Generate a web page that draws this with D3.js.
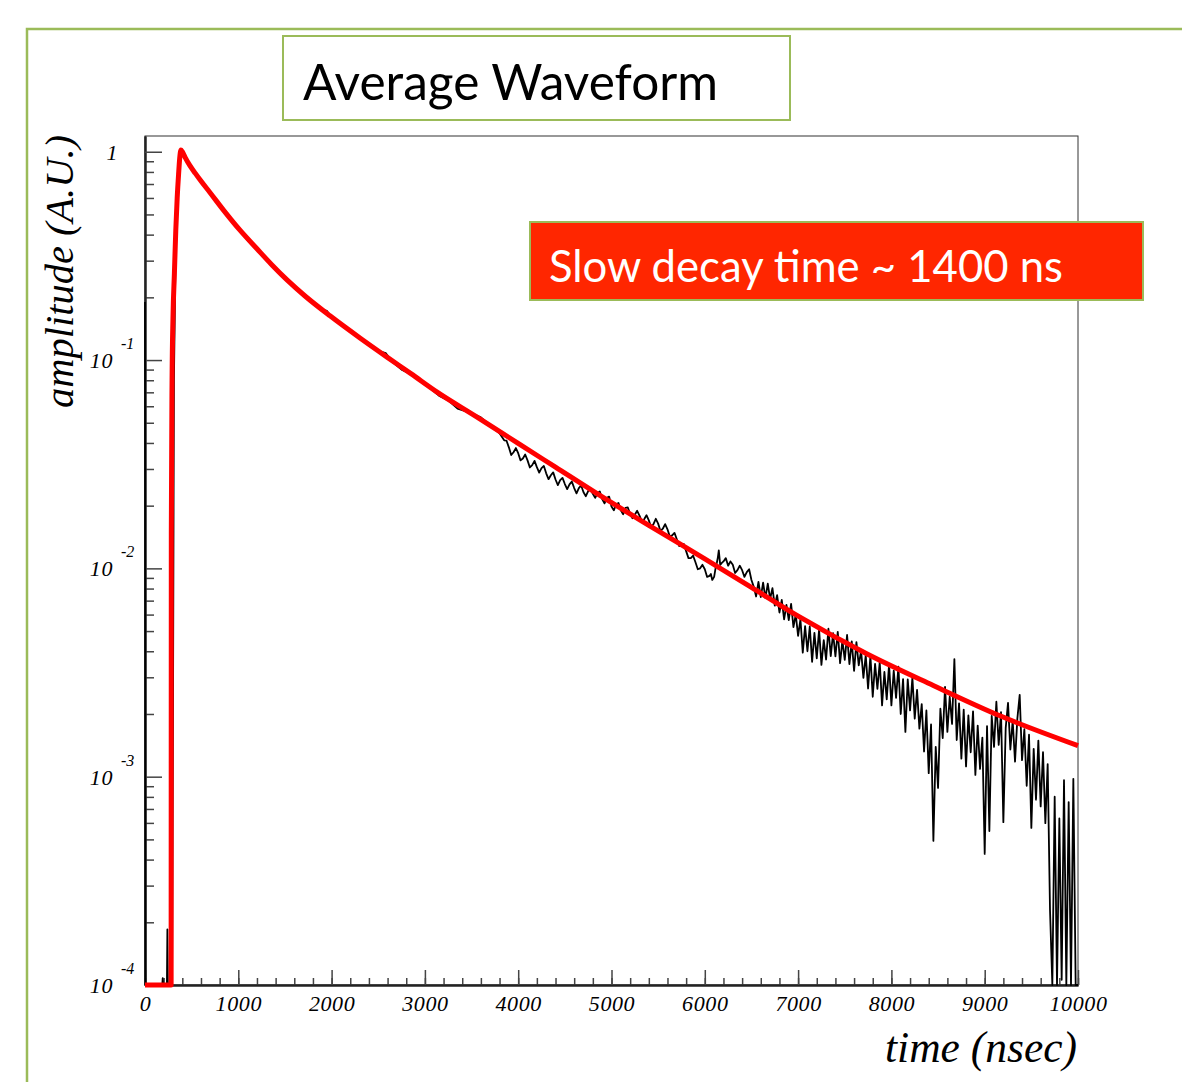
<!DOCTYPE html>
<html>
<head>
<meta charset="utf-8">
<script src="https://cdn.jsdelivr.net/npm/d3@7"></script>
<style>
  body { margin: 0; background: #fff; }
</style>
</head>
<body>
<svg id="chart"></svg>
<script>
"use strict";

// ---- data ----
let xMajor = [0, 1000, 2000, 3000, 4000, 5000, 6000, 7000, 8000, 9000, 10000];
let yMajor = [1e-4, 1e-3, 1e-2, 1e-1, 1];
let yLabelBase = ['10', '10', '10', '10', '1'];
let yLabelExp = ['-4', '-3', '-2', '-1', ''];

// fitted curve (red)
let fitTime = [0, 280, 282, 290, 300, 315, 330, 345, 360, 372, 385, 400, 430, 480, 540, 590, 700, 839,
  1018, 1200, 1361, 1522, 1715, 1983, 2304, 2594, 2850, 3127, 3555, 4000, 4400, 4841, 5400, 6000,
  6500, 7020, 7735, 8449, 9164, 10000];
let fitAmp = [1e-4, 1e-4, 0.015, 0.08, 0.16, 0.26, 0.42, 0.6, 0.78, 0.93, 1.02, 1.0, 0.94, 0.86, 0.787,
  0.733, 0.634, 0.526, 0.42, 0.342, 0.286, 0.2425, 0.203, 0.163, 0.1276, 0.1033, 0.0861, 0.0704,
  0.0534, 0.0398, 0.0306, 0.0229, 0.0161, 0.0111, 0.0081, 0.00583, 0.00389, 0.00274, 0.00196, 0.00141];

// averaged waveform (black), [time ns, amplitude]; 5e-5 = below the axis
let waveform = [
  [0, 0.19], [5, 5e-5], [185, 5e-5], [190, 1.08e-4], [195, 5e-5], [235, 5e-5], [240, 1.85e-4], [245, 5e-5],
  [290, 5e-5], [300, 0.002], [310, 0.08], [330, 0.4], [355, 0.8], [380, 1.0], [400, 1.0], [420, 0.97],
  [500, 0.84], [600, 0.73], [700, 0.635], [800, 0.555], [900, 0.49], [1000, 0.43], [1100, 0.375],
  [1200, 0.34], [1300, 0.307], [1400, 0.275], [1500, 0.248], [1600, 0.226], [1700, 0.206], [1800, 0.19],
  [1900, 0.1745], [1950, 0.172], [2000, 0.160], [2100, 0.149], [2200, 0.138], [2300, 0.128], [2400, 0.119],
  [2500, 0.1107], [2580, 0.108], [2650, 0.098], [2750, 0.090], [2850, 0.0855], [2950, 0.079], [3050, 0.0735],
  [3150, 0.0675], [3250, 0.064], [3350, 0.0585], [3450, 0.0565], [3500, 0.0555], [3600, 0.0531],
  [3700, 0.0485], [3800, 0.0445], [3850, 0.0412], [3875, 0.0410], [3900, 0.0381], [3925, 0.0350],
  [3950, 0.0361], [3975, 0.0378], [4000, 0.0357], [4025, 0.0330], [4050, 0.0337], [4075, 0.0352],
  [4100, 0.0330], [4125, 0.0305], [4150, 0.0313], [4175, 0.0328], [4200, 0.0306], [4225, 0.0288],
  [4250, 0.0303], [4275, 0.0310], [4300, 0.0286], [4325, 0.0268], [4350, 0.0280], [4375, 0.0289],
  [4400, 0.0267], [4425, 0.0251], [4450, 0.0265], [4475, 0.0272], [4500, 0.0254], [4525, 0.0240],
  [4550, 0.0253], [4575, 0.0261], [4600, 0.0243], [4625, 0.0229], [4650, 0.0243], [4675, 0.0250],
  [4700, 0.0232], [4725, 0.0222], [4750, 0.0235], [4775, 0.0240], [4800, 0.0228], [4825, 0.0218],
  [4850, 0.0230], [4875, 0.0234], [4900, 0.0215], [4925, 0.0205], [4950, 0.0218], [4975, 0.0221],
  [5000, 0.0198], [5025, 0.0190], [5050, 0.0203], [5075, 0.0206], [5100, 0.0190], [5125, 0.0182],
  [5150, 0.0195], [5175, 0.0196], [5200, 0.0182], [5225, 0.0174], [5250, 0.0181], [5275, 0.0189],
  [5300, 0.0179], [5325, 0.0168], [5350, 0.0172], [5375, 0.0180], [5400, 0.0170], [5425, 0.0158],
  [5450, 0.0163], [5475, 0.0173], [5500, 0.0164], [5525, 0.0151], [5550, 0.0155], [5575, 0.0163],
  [5600, 0.0154], [5625, 0.0142], [5650, 0.0144], [5675, 0.0148], [5700, 0.0138], [5725, 0.0128],
  [5750, 0.0129], [5775, 0.0131], [5800, 0.0121], [5825, 0.0112], [5850, 0.0112], [5875, 0.0115],
  [5900, 0.0107], [5925, 0.0099], [5950, 0.0100], [5975, 0.0104], [6000, 0.0099], [6025, 0.0091],
  [6050, 0.0092], [6065, 0.0094], [6080, 0.0088], [6100, 0.0091], [6115, 0.0100], [6130, 0.0107],
  [6140, 0.0113], [6150, 0.0122], [6165, 0.0104], [6180, 0.0106], [6200, 0.0108], [6225, 0.0112],
  [6250, 0.0103], [6275, 0.0108], [6300, 0.0104], [6325, 0.0095], [6350, 0.0098], [6375, 0.0103],
  [6400, 0.0098], [6425, 0.0091], [6450, 0.0096], [6475, 0.0099], [6500, 0.0088],
  [6525, 0.00815], [6550, 0.00733], [6575, 0.00861], [6600, 0.00728], [6625, 0.00855], [6650, 0.0072],
  [6675, 0.00845], [6700, 0.00713], [6725, 0.00804], [6750, 0.00662], [6775, 0.00743], [6800, 0.00614],
  [6825, 0.00705], [6850, 0.00569], [6875, 0.00668], [6900, 0.00564], [6925, 0.00676], [6950, 0.00522],
  [6975, 0.0060], [7000, 0.00474], [7025, 0.00569], [7050, 0.00394], [7075, 0.00528], [7100, 0.0040],
  [7125, 0.00526], [7150, 0.00356], [7175, 0.0049], [7200, 0.0037], [7225, 0.00508], [7250, 0.00344],
  [7275, 0.00452], [7300, 0.00365], [7325, 0.00513], [7350, 0.00379], [7375, 0.00489], [7400, 0.00378],
  [7425, 0.00496], [7450, 0.00351], [7475, 0.00451], [7500, 0.00364], [7525, 0.00479], [7550, 0.00347],
  [7575, 0.00446], [7600, 0.00322], [7625, 0.00443], [7650, 0.00342], [7675, 0.00403], [7700, 0.00298],
  [7725, 0.00383], [7750, 0.00265], [7775, 0.00381], [7800, 0.00242], [7825, 0.00348], [7850, 0.00264],
  [7875, 0.00355], [7900, 0.0022], [7925, 0.00318], [7950, 0.00235], [7975, 0.00346], [8000, 0.0022],
  [8025, 0.00323], [8050, 0.00239], [8075, 0.00337], [8100, 0.0020], [8125, 0.00294], [8150, 0.00164],
  [8175, 0.00293], [8200, 0.00208], [8225, 0.00299], [8250, 0.0019], [8275, 0.00261], [8300, 0.0017],
  [8325, 0.00223], [8350, 0.00132], [8375, 0.00208], [8400, 0.00104], [8425, 0.00178], [8450, 0.000492],
  [8475, 0.00139], [8500, 0.000883], [8525, 0.00212], [8550, 0.00153], [8575, 0.0027], [8600, 0.00164],
  [8625, 0.00242], [8650, 0.00179], [8675, 0.00367], [8700, 0.0015], [8725, 0.00225], [8750, 0.00122],
  [8775, 0.0021], [8800, 0.00112], [8825, 0.00197], [8850, 0.00131], [8875, 0.00206], [8900, 0.00102],
  [8925, 0.00176], [8950, 0.00109], [8975, 0.00154], [9000, 0.000426], [9025, 0.00175], [9050, 0.000548],
  [9075, 0.00196], [9100, 0.00139], [9125, 0.00229], [9150, 0.00142], [9175, 0.00204], [9200, 0.000605],
  [9225, 0.00171], [9250, 0.00226], [9275, 0.00135], [9300, 0.00186], [9325, 0.00118], [9350, 0.0019],
  [9375, 0.00247], [9400, 0.0012], [9425, 0.00169], [9450, 0.000904], [9475, 0.00159], [9500, 0.000568],
  [9525, 0.00136], [9550, 0.000776], [9575, 0.00149], [9600, 0.00072], [9625, 0.00131], [9650, 0.000598],
  [9675, 0.00115], [9700, 0.000229], [9725, 5e-5], [9750, 0.000802], [9775, 5e-5], [9800, 0.00063],
  [9825, 1.06e-4], [9850, 0.000962], [9875, 5e-5], [9900, 0.000755], [9925, 5e-5], [9950, 0.000977],
  [9975, 5e-5], [10000, 5e-5]
];

// ---- layout ----
let W = 1182, H = 1082;
let plot = { left: 145, right: 1078, top: 136, bottom: 985 };
let green = '#9bbb59';
let serif = '"Liberation Serif", "Times New Roman", serif';
let sans = 'Lato, "Open Sans", sans-serif';

let svg = d3.select('#chart').attr('width', W).attr('height', H);

let x = d3.scaleLinear().domain([0, 10000]).range([plot.left, plot.right]);
let y = d3.scaleLog().domain([1e-4, 1.19]).range([plot.bottom, plot.top]).clamp(true);

// scale a text's font size so that it fills a measured width
let fitWidth = (sel, target) => {
  let fs = parseFloat(sel.attr('font-size'));
  let w = sel.node().getComputedTextLength();
  sel.attr('font-size', (fs * target / w).toFixed(2));
};

// slide frame
svg.append('path')
  .attr('d', `M27,${H} V29 H${W}`)
  .attr('fill', 'none').attr('stroke', green).attr('stroke-width', 2.5);

// title box
svg.append('rect').attr('x', 283).attr('y', 36).attr('width', 507).attr('height', 84)
  .attr('fill', '#fff').attr('stroke', green).attr('stroke-width', 2);
let title = svg.append('text').attr('x', 303).attr('y', 100)
  .attr('font-family', sans).attr('font-size', 44).attr('fill', '#000')
  .text('Average Waveform');
fitWidth(title, 415);

// plot frame
svg.append('rect')
  .attr('x', plot.left).attr('y', plot.top)
  .attr('width', plot.right - plot.left).attr('height', plot.bottom - plot.top)
  .attr('fill', '#fff').attr('stroke', '#333').attr('stroke-width', 1);

// x axis: minor then major ticks, drawn inward
let gxMinor = svg.append('g').attr('transform', `translate(0,${plot.bottom})`)
  .call(d3.axisBottom(x).ticks(50).tickSize(-7).tickSizeOuter(0).tickFormat(''));
let gx = svg.append('g').attr('transform', `translate(0,${plot.bottom})`)
  .call(d3.axisBottom(x).tickValues(xMajor).tickFormat(d3.format('d'))
    .tickSize(-15).tickSizeOuter(0).tickPadding(10));
gx.selectAll('text')
  .attr('font-family', serif).attr('font-style', 'italic').attr('font-size', 22)
  .attr('letter-spacing', 0.6).attr('fill', '#000');

// y axis: log minor ticks, then decades
let yMinor = y.ticks().filter((v) => yMajor.indexOf(v) < 0 && v < 1.19);
let gyMinor = svg.append('g').attr('transform', `translate(${plot.left},0)`)
  .call(d3.axisLeft(y).tickValues(yMinor).tickSize(-9).tickSizeOuter(0).tickFormat(''));
let gy = svg.append('g').attr('transform', `translate(${plot.left},0)`)
  .call(d3.axisLeft(y).tickValues(yMajor).tickSize(-17).tickSizeOuter(0).tickFormat(''));

[gxMinor, gx, gyMinor, gy].forEach((g) => {
  g.selectAll('.tick line').attr('stroke', '#444').attr('stroke-width', 1.5);
  g.select('.domain').attr('stroke', '#222').attr('stroke-width', 2);
});

// y tick labels with superscript exponents
let yLab = svg.append('g')
  .attr('font-family', serif).attr('font-style', 'italic').attr('fill', '#000');
yMajor.forEach((v, i) => {
  yLab.append('text')
    .attr('x', yLabelExp[i] ? 113 : 118).attr('y', y(v) + 8)
    .attr('text-anchor', 'end').attr('font-size', 22).attr('letter-spacing', 0.6)
    .text(yLabelBase[i]);
  if (yLabelExp[i]) {
    yLab.append('text')
      .attr('x', 121).attr('y', y(v) - 11)
      .attr('font-size', 16)
      .text(yLabelExp[i]);
  }
});

// axis titles
let yTitle = svg.append('text')
  .attr('transform', 'translate(73,135) rotate(-90)')
  .attr('text-anchor', 'end')
  .attr('font-family', serif).attr('font-style', 'italic').attr('font-size', 38)
  .text('amplitude (A.U.)');
fitWidth(yTitle, 273);

let xTitle = svg.append('text')
  .attr('x', 1077).attr('y', 1062).attr('text-anchor', 'end')
  .attr('font-family', serif).attr('font-style', 'italic').attr('font-size', 38)
  .text('time (nsec)');
fitWidth(xTitle, 192);

// waveform (black) then fit (red)
let waveLine = d3.line()
  .x((d) => x(d[0]))
  .y((d) => y(d[1]));
svg.append('path')
  .datum(waveform)
  .attr('d', waveLine)
  .attr('fill', 'none').attr('stroke', '#000').attr('stroke-width', 1.8)
  .attr('stroke-linejoin', 'round');

let fitLine = d3.line()
  .x((i) => x(fitTime[i]))
  .y((i) => y(fitAmp[i]))
  .curve(d3.curveMonotoneX);
svg.append('path')
  .datum(d3.range(fitTime.length))
  .attr('d', fitLine)
  .attr('fill', 'none').attr('stroke', '#ff0000').attr('stroke-width', 5)
  .attr('stroke-linejoin', 'round');

// annotation box
svg.append('rect').attr('x', 530).attr('y', 222).attr('width', 613).attr('height', 78)
  .attr('fill', '#ff2600').attr('stroke', green).attr('stroke-width', 2);
let note = svg.append('text').attr('x', 549).attr('y', 282)
  .attr('font-family', sans).attr('font-size', 42).attr('fill', '#fff')
  .text('Slow decay time ~ 1400 ns');
fitWidth(note, 514);
</script>
</body>
</html>
